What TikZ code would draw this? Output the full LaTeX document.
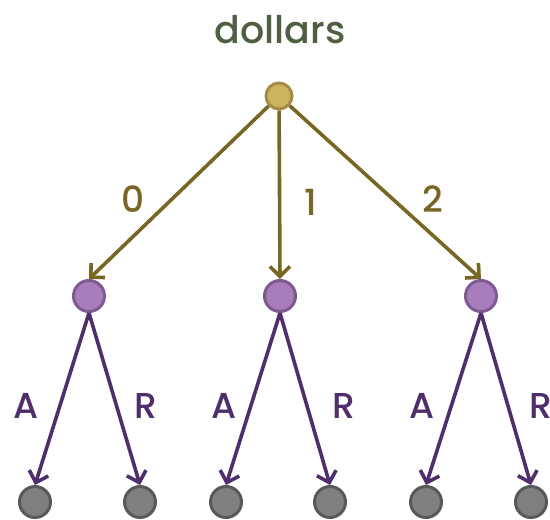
\documentclass[tikz,border=0pt]{standalone}
\usepackage{fontspec}
\setmainfont{Poppins}[UprightFont={* Medium}]
\usetikzlibrary{arrows.meta}
\definecolor{titlegreen}{HTML}{4E6041}
\definecolor{rootfill}{HTML}{CCB45E}
\definecolor{rootline}{HTML}{A38A45}
\definecolor{olive}{HTML}{776624}
\definecolor{purpfill}{HTML}{A77DBB}
\definecolor{purpline}{HTML}{7E5A92}
\definecolor{purpedge}{HTML}{4F2E6B}
\definecolor{leaffill}{HTML}{7F7F7F}
\definecolor{leafline}{HTML}{595959}
\tikzset{
  rootnode/.style={circle, draw=rootline, fill=rootfill, line width=3pt, minimum size=26pt, inner sep=0pt},
  choicenode/.style={circle, draw=purpline, fill=purpfill, line width=3pt, minimum size=31pt, inner sep=0pt},
  leafnode/.style={circle, draw=leafline, fill=leaffill, line width=3pt, minimum size=31pt, inner sep=0pt},
  oedge/.style={draw=olive, line width=3.6pt, -{Straight Barb[length=10pt,width=20pt]}},
  pedge/.style={draw=purpedge, line width=3.6pt, -{Straight Barb[length=10pt,width=20pt]}},
  olab/.style={text=olive, font=\fontsize{36}{40}\selectfont, inner sep=0pt},
  plab/.style={text=purpedge, font=\fontsize{36}{40}\selectfont, inner sep=0pt},
}
\begin{document}
\begin{tikzpicture}[x=1pt,y=-1pt]
\useasboundingbox (0,0) rectangle (550,520);
\node[text=titlegreen, font=\fontsize{38}{42}\selectfont, inner sep=0pt] (title) at (280,30) {dollars};
\node[rootnode] (r) at (279,96) {};
\node[choicenode] (p0) at (89,296) {};
\node[choicenode] (p1) at (280,296) {};
\node[choicenode] (p2) at (481,296) {};
\node[leafnode] (l0a) at (35,502) {};
\node[leafnode] (l0r) at (140,502) {};
\node[leafnode] (l1a) at (226,502) {};
\node[leafnode] (l1r) at (330,502) {};
\node[leafnode] (l2a) at (426,502) {};
\node[leafnode] (l2r) at (531,502) {};
\draw[oedge] (r) -- (p0.north);
\draw[oedge] (r) -- (p1.north);
\draw[oedge] (r) -- (p2.north);
\foreach \p/\a/\b in {p0/l0a/l0r, p1/l1a/l1r, p2/l2a/l2r}{
  \draw[pedge] (\p.south) -- (\a.north);
  \draw[pedge] (\p.south) -- (\b.north);
}
\node[olab] (n0) at (133,199) {0};
\node[olab] (n1) at (311,202) {1};
\node[olab] (n2) at (433,199) {2};
\node[plab] (a0) at (26,406) {A};
\node[plab] (r0) at (146,406) {R};
\node[plab] (a1) at (224,406) {A};
\node[plab] (r1) at (344,406) {R};
\node[plab] (a2) at (422,406) {A};
\node[plab] (r2) at (541,406) {R};
\end{tikzpicture}
\end{document}
